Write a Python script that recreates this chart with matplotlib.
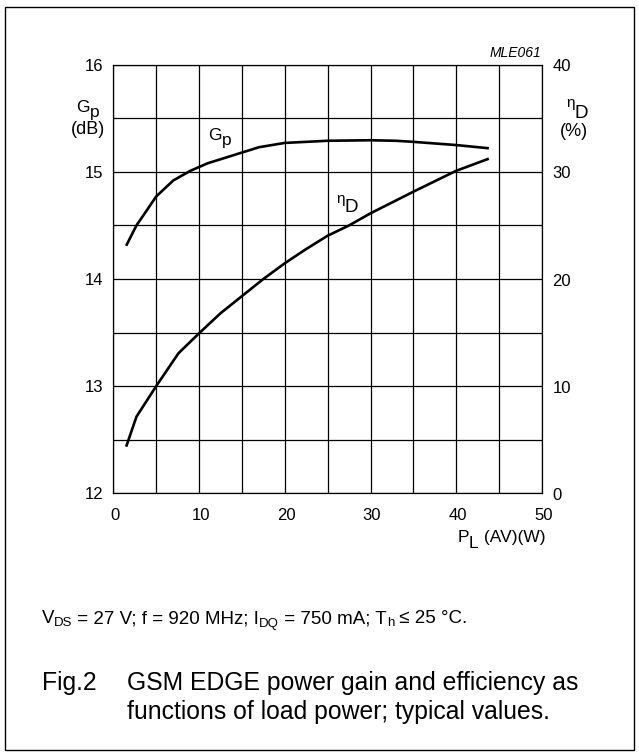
import matplotlib
matplotlib.use("Agg")
import matplotlib.pyplot as plt
from matplotlib.patches import Rectangle

plt.rcParams['font.family'] = ['Liberation Sans', 'DejaVu Sans']

# Power gain vs load power
pl_gain = [1.5, 2.7, 3.9, 5, 7, 9, 11, 13, 15, 17, 20, 22.5, 25, 30, 33, 35, 40, 43.8]
gain_db = [14.31, 14.50, 14.64, 14.77, 14.92, 15.01, 15.08, 15.13, 15.18, 15.23,
           15.27, 15.28, 15.29, 15.295, 15.29, 15.28, 15.25, 15.22]

# Drain efficiency vs load power
pl_eff = [1.5, 2.7, 5, 7.6, 10, 12.5, 15, 17.5, 20, 22.5, 25, 27.5, 30, 35, 40, 43.8]
eff_pct = [4.35, 7.15, 10.0, 13.07, 14.93, 16.8, 18.4, 20.0, 21.47, 22.8, 24.04,
           25.0, 26.13, 28.15, 30.1, 31.23]

x_ticks = [0, 10, 20, 30, 40, 50]
gain_ticks = [12, 13, 14, 15, 16]
eff_ticks = [0, 10, 20, 30, 40]

W, H = 639, 756
fig = plt.figure(figsize=(W / 100, H / 100), dpi=100)
renderer = fig.canvas.get_renderer()


def px(x, y):
    """Pixel position (origin top-left) to figure fraction."""
    return x / W, 1 - y / H


def rich(x, y, parts, ha='left', **kw):
    """Draw a run of (text, size, drop_px) pieces on one baseline at pixel x, y."""
    widths = []
    for s, size, _ in parts:
        t = fig.text(0, 0, s, fontsize=size, **kw)
        widths.append(t.get_window_extent(renderer).width)
        t.remove()
    total = sum(widths)
    if ha == 'center':
        x -= total / 2
    elif ha == 'right':
        x -= total
    for (s, size, drop), w in zip(parts, widths):
        fig.text(*px(x, y + drop), s, fontsize=size, ha='left', va='baseline', **kw)
        x += w


# outer frame
fig.patches.append(Rectangle(px(4.5, 749.5), 629.5 / W, 742.5 / H,
                             transform=fig.transFigure, fill=False,
                             edgecolor='black', linewidth=1.0))

left, right, top, bottom = 113.3, 542, 64.7, 493.3
ax = fig.add_axes([left / W, 1 - bottom / H, (right - left) / W, (bottom - top) / H])
ax.set_xlim(0, 50)
ax.set_ylim(12, 16)
ax.set_xticks([i * 5 for i in range(11)])
ax.set_yticks([12 + 0.5 * i for i in range(9)])
ax.grid(True, color='black', linewidth=0.9)
ax.tick_params(length=0, labelleft=False, labelbottom=False)
for s in ax.spines.values():
    s.set_linewidth(0.9)

ax2 = ax.twinx()
ax2.set_ylim(0, 40)
ax2.set_yticks([])
for s in ax2.spines.values():
    s.set_visible(False)

ax.plot(pl_gain, gain_db, color='black', linewidth=1.9, solid_capstyle='butt')
ax2.plot(pl_eff, eff_pct, color='black', linewidth=1.9, solid_capstyle='butt')

# tick labels
fs = 12
for v in x_ticks:
    xp = left + (right - left) * v / 50
    fig.text(*px(xp + 1.5, 519.5), str(v), ha='center', va='baseline', fontsize=fs)
for v in gain_ticks:
    yp = bottom - (bottom - top) * (v - 12) / 4
    fig.text(*px(103.5, yp + 6), str(v), ha='right', va='baseline', fontsize=fs)
for v in eff_ticks:
    yp = bottom - (bottom - top) * v / 40
    fig.text(*px(552.5, yp + 6.5), str(v), ha='left', va='baseline', fontsize=fs)

# axis titles
rich(76, 112.3, [('G', 12.5, 0), ('p', 12.5, 4.5)])
fig.text(*px(88.5, 134.5), '(dB)', ha='center', va='baseline', fontsize=13)
rich(566, 107.5, [('η', 11, 0), ('D', 13.5, 10.2)])
fig.text(*px(574.2, 136.5), '(%)', ha='center', va='baseline', fontsize=13)
rich(457.5, 542, [('P', 12.5, 0), ('L', 12.5, 5.5), (' (AV)(W)', 12.5, 0)])
fig.text(*px(541, 56.7), 'MLE061', ha='right', va='baseline', fontsize=10,
         style='italic')

# curve labels
rich(208.5, 140, [('G', 12.5, 0), ('p', 12.5, 4.5)])
rich(336, 203.5, [('η', 11, 0), ('D', 13.5, 8.2)])

# conditions and caption
rich(41.5, 623, [('V', 13.5, 0), ('DS', 9.5, 3.5), (' = 27 V; f = 920 MHz; I', 13.5, 0),
                 ('DQ', 9.5, 3.5), (' = 750 mA; T', 13.5, 0), ('h', 9.5, 3.5),
                 (' ≤ 25 °C.', 13.5, 0)])
fig.text(*px(42, 690), 'Fig.2', ha='left', va='baseline', fontsize=17.8)
fig.text(*px(127, 690), 'GSM EDGE power gain and efficiency as',
         ha='left', va='baseline', fontsize=17.8)
fig.text(*px(127, 719), 'functions of load power; typical values.',
         ha='left', va='baseline', fontsize=17.8)

fig.savefig('out.png', dpi=100)
